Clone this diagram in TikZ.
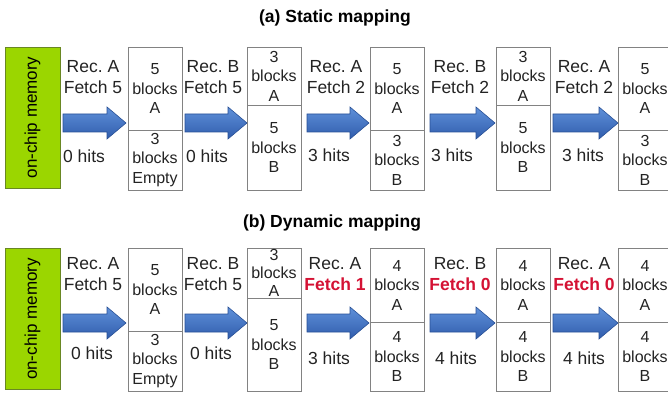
\documentclass[tikz,border=0pt]{standalone}
\usepackage{fontspec}
\setmainfont{Liberation Sans}
\frenchspacing

\definecolor{chipgreen}{RGB}{155,214,0}
\definecolor{chipedge}{RGB}{105,135,35}
\definecolor{cellgray}{RGB}{130,130,130}
\definecolor{textgray}{RGB}{35,35,35}
\definecolor{arrowlight}{RGB}{95,145,218}
\definecolor{arrowdark}{RGB}{48,92,172}
\definecolor{arrowedge}{RGB}{40,80,150}
\definecolor{fetchred}{RGB}{212,18,52}

\tikzset{
  cell/.style={draw=cellgray, line width=0.9pt, minimum width=54pt, inner sep=0pt,
    align=center, text=textgray, font=\fontsize{16}{19.5}\selectfont},
  lbl/.style={align=center, inner sep=0pt, text=textgray, font=\fontsize{17.5}{21}\selectfont},
  ttl/.style={inner sep=0pt, font=\bfseries\fontsize{17.5}{21}\selectfont},
  memory/.style={draw=chipedge, fill=chipgreen, line width=0.8pt, rotate=90,
    minimum width=141pt, minimum height=55pt, inner sep=0pt, font=\fontsize{17}{20}\selectfont},
  bigarrow/.style={draw=arrowedge, line width=0.6pt, top color=arrowlight, bottom color=arrowdark}
}

% block arrow: tail x, tip x, middle y
\newcommand{\blockarrow}[3]{%
  \path[bigarrow] (#1,#3-9) -- (#2-19,#3-9) -- (#2-19,#3-16) -- (#2,#3)
    -- (#2-19,#3+16) -- (#2-19,#3+9) -- (#1,#3+9) -- cycle;}
\newcommand{\redfetch}[1]{\textcolor{fetchred}{\bfseries Fetch #1}}

\begin{document}
\begin{tikzpicture}[x=1pt, y=-1pt]
\useasboundingbox (0,0) rectangle (668,395);

% (a) Static mapping
\node[ttl] (titlea) at (335,18) {(a) Static mapping};
\node[memory] (mema) at (32.5,117.5) {on-chip memory};

\blockarrow{63}{126}{123}
\blockarrow{185}{247}{123}
\blockarrow{307}{369}{123}
\blockarrow{430}{495}{123}
\blockarrow{553}{618}{123}

\node[cell, minimum height=83pt] (a1t) at (155,88.5) {5\\blocks\\A};
\node[cell, minimum height=60pt] (a1b) at (155,160) {3\\blocks\\Empty};
\node[cell, minimum height=58pt] (a2t) at (274,76) {3\\blocks\\A};
\node[cell, minimum height=85pt] (a2b) at (274,147.5) {5\\blocks\\B};
\node[cell, minimum height=83pt] (a3t) at (397,88.5) {5\\blocks\\A};
\node[cell, minimum height=60pt] (a3b) at (397,160) {3\\blocks\\B};
\node[cell, minimum height=58pt] (a4t) at (523,76) {3\\blocks\\A};
\node[cell, minimum height=85pt] (a4b) at (523,147.5) {5\\blocks\\B};
\node[cell, minimum height=83pt] (a5t) at (645,88.5) {5\\blocks\\A};
\node[cell, minimum height=60pt] (a5b) at (645,160) {3\\blocks\\B};

\node[lbl] (ra1) at (93,77.5) {Rec. A\\Fetch 5};
\node[lbl] (ra2) at (213,77.5) {Rec. B\\Fetch 5};
\node[lbl] (ra3) at (336,77.5) {Rec. A\\Fetch 2};
\node[lbl] (ra4) at (460,77.5) {Rec. B\\Fetch 2};
\node[lbl] (ra5) at (584,77.5) {Rec. A\\Fetch 2};
\node[lbl] (ha1) at (84,156) {0 hits};
\node[lbl] (ha2) at (207,156) {0 hits};
\node[lbl] (ha3) at (329,155) {3 hits};
\node[lbl] (ha4) at (452,155) {3 hits};
\node[lbl] (ha5) at (583,155) {3 hits};

% (b) Dynamic mapping
\node[ttl] (titleb) at (332,223) {(b) Dynamic mapping};
\node[memory] (memb) at (32.5,319) {on-chip memory};

\blockarrow{63}{126}{323}
\blockarrow{185}{247}{323}
\blockarrow{307}{369}{323}
\blockarrow{430}{495}{323}
\blockarrow{553}{618}{323}

\node[cell, minimum height=83pt] (b1t) at (155,289.5) {5\\blocks\\A};
\node[cell, minimum height=60pt] (b1b) at (155,361) {3\\blocks\\Empty};
\node[cell, minimum height=50pt, font=\fontsize{16}{18}\selectfont] (b2t) at (274,273) {3\\blocks\\A};
\node[cell, minimum height=93pt] (b2b) at (274,344.5) {5\\blocks\\B};
\node[cell, minimum height=74pt] (b3t) at (397,285) {4\\blocks\\A};
\node[cell, minimum height=69pt] (b3b) at (397,356.5) {4\\blocks\\B};
\node[cell, minimum height=74pt] (b4t) at (523,285) {4\\blocks\\A};
\node[cell, minimum height=69pt] (b4b) at (523,356.5) {4\\blocks\\B};
\node[cell, minimum height=74pt] (b5t) at (645,285) {4\\blocks\\A};
\node[cell, minimum height=69pt] (b5b) at (645,356.5) {4\\blocks\\B};

\node[lbl] (rb1) at (93,274) {Rec. A\\Fetch 5};
\node[lbl] (rb2) at (213,274) {Rec. B\\Fetch 5};
\node[lbl] (rb3) at (335,274) {Rec. A\\\redfetch{1}};
\node[lbl] (rb4) at (460,274) {Rec. B\\\redfetch{0}};
\node[lbl] (rb5) at (584,274) {Rec. A\\\redfetch{0}};
\node[lbl] (hb1) at (92,353) {0 hits};
\node[lbl] (hb2) at (211,353) {0 hits};
\node[lbl] (hb3) at (329,358) {3 hits};
\node[lbl] (hb4) at (456,358) {4 hits};
\node[lbl] (hb5) at (584,358) {4 hits};

\end{tikzpicture}
\end{document}
